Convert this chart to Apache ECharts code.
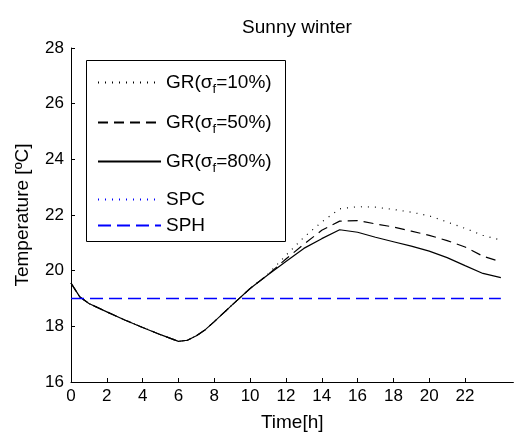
<!DOCTYPE html>
<html>
<head>
<meta charset="utf-8">
<script src="https://cdn.jsdelivr.net/npm/echarts@6/dist/echarts.min.js"></script>
<style>html,body{margin:0;padding:0;background:#fff;}#c{width:514px;height:437px;}</style>
</head>
<body>
<div id="c"></div>
<script>
const titleText = 'Sunny winter';
const xName = 'Time[h]';
const yName = 'Temperature [ºC]';
const hours = [0, 0.5, 1, 2, 3, 4, 5, 6, 6.5, 7, 7.5, 8, 9, 10, 11, 12, 13, 14, 15, 16, 17, 18, 19, 20, 21, 22, 23, 24];
const gr10 = [19.55, 19.05, 18.82, 18.52, 18.23, 17.96, 17.7, 17.46, 17.5, 17.66, 17.88, 18.17, 18.77, 19.36, 19.88, 20.55, 21.2, 21.75, 22.22, 22.3, 22.28, 22.2, 22.1, 21.97, 21.75, 21.52, 21.27, 21.1];
const gr50 = [19.55, 19.05, 18.82, 18.52, 18.23, 17.96, 17.7, 17.46, 17.5, 17.66, 17.88, 18.17, 18.77, 19.36, 19.86, 20.42, 20.95, 21.45, 21.78, 21.8, 21.68, 21.57, 21.42, 21.27, 21.08, 20.85, 20.52, 20.32];
const gr80 = [19.55, 19.05, 18.82, 18.52, 18.23, 17.96, 17.7, 17.46, 17.5, 17.66, 17.88, 18.17, 18.77, 19.36, 19.85, 20.33, 20.8, 21.15, 21.47, 21.38, 21.2, 21.04, 20.88, 20.7, 20.47, 20.18, 19.9, 19.75];
const sphHours = [0, 24];
const sph = [19, 19];
const spc = [];
const xTicks = [0, 2, 4, 6, 8, 10, 12, 14, 16, 18, 20, 22];
const yTicks = [16, 18, 20, 22, 24, 26, 28];
const legendNames = ['GR(σf=10%)', 'GR(σf=50%)', 'GR(σf=80%)', 'SPC', 'SPH'];
const legendLabels = ['GR(σ{s|f}=10%)', 'GR(σ{s|f}=50%)', 'GR(σ{s|f}=80%)', 'SPC', 'SPH'];

const FONT = 'Liberation Sans, Arial, sans-serif';
const pair = (xs, ys) => xs.map((x, i) => [x, ys[i]]);

const chart = echarts.init(document.getElementById('c'), null, {renderer: 'canvas'});

const legendTops = [80, 120, 159, 197, 223];
const legends = legendNames.map((n, i) => ({
  data: [n],
  left: 97,
  top: legendTops[i] - 7,
  itemWidth: 63,
  itemHeight: 14,
  itemGap: 5,
  selectedMode: false,
  padding: 0,
  itemStyle: { opacity: 0 },
  formatter: () => legendLabels[i],
  textStyle: {
    fontFamily: FONT, fontSize: 19, color: '#000',
    rich: { s: { fontFamily: FONT, fontSize: 13, color: '#000', verticalAlign: 'bottom', padding: [13, 0, 0, 0] } }
  }
}));

const lineSeries = (name, data, color, type, width) => ({
  name, type: 'line', data, symbol: 'none', showSymbol: false, smooth: false,
  lineStyle: { color, width, type },
  itemStyle: { color },
  animation: false
});

chart.setOption({
  animation: false,
  backgroundColor: '#fff',
  title: {
    text: titleText, left: 292, top: 13, textAlign: 'center',
    textStyle: { fontFamily: FONT, fontSize: 19, fontWeight: 'normal', color: '#000' }
  },
  grid: { left: 71, top: 48, bottom: 53, right: 0.6, containLabel: false },
  legend: legends,
  graphic: [{
    type: 'rect', z: 1,
    shape: { x: 86.5, y: 60.5, width: 199, height: 181 },
    style: { fill: '#fff', stroke: '#000', lineWidth: 1 }
  }],
  xAxis: {
    type: 'value', min: 0, max: 24.7, interval: 2,
    name: xName, nameLocation: 'middle', nameGap: 31,
    nameTextStyle: { fontFamily: FONT, fontSize: 19, color: '#000' },
    axisLine: { show: true, onZero: false, lineStyle: { color: '#000', width: 1 } },
    axisTick: { show: true, inside: true, length: 4, lineStyle: { color: '#000' }, customValues: xTicks },
    axisLabel: { fontFamily: FONT, fontSize: 17, color: '#000', margin: 6, customValues: xTicks },
    splitLine: { show: false }
  },
  yAxis: {
    type: 'value', min: 16, max: 28, interval: 2,
    name: yName, nameLocation: 'middle', nameGap: 39, nameRotate: 90,
    nameTextStyle: { fontFamily: FONT, fontSize: 19, color: '#000' },
    axisLine: { show: true, lineStyle: { color: '#000', width: 1 } },
    axisTick: { show: true, inside: true, length: 4, lineStyle: { color: '#000' }, customValues: yTicks },
    axisLabel: { fontFamily: FONT, fontSize: 17, color: '#000', margin: 7, customValues: yTicks },
    splitLine: { show: false }
  },
  series: [
    lineSeries(legendNames[0], pair(hours, gr10), '#000', [1, 6], 1.2),
    lineSeries(legendNames[1], pair(hours, gr50), '#000', [10, 6], 1.2),
    lineSeries(legendNames[2], pair(hours, gr80), '#000', 'solid', 1.2),
    lineSeries(legendNames[3], spc, '#0000ff', [1, 6], 1.5),
    lineSeries(legendNames[4], pair(sphHours, sph), '#0000ff', [13, 6], 1.5)
  ]
});
</script>
</body>
</html>
